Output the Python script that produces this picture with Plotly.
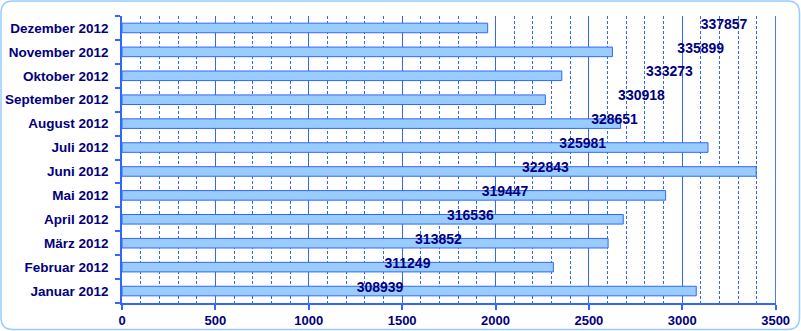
import plotly.graph_objects as go

months = ["Januar 2012", "Februar 2012", "März 2012", "April 2012", "Mai 2012",
          "Juni 2012", "Juli 2012", "August 2012", "September 2012",
          "Oktober 2012", "November 2012", "Dezember 2012"]
monthly = [3075, 2310, 2603, 2684, 2911, 3396, 3138, 2670, 2267, 2355, 2626, 1958]
cumulative = [308939, 311249, 313852, 316536, 319447, 322843, 325981, 328651,
              330918, 333273, 335899, 337857]
x_ticks = [0, 500, 1000, 1500, 2000, 2500, 3000, 3500]

W, H = 801, 331
L, R, T, B = 122, 25, 16, 28
PW, PH = W - L - R, H - T - B

NAVY = "#000080"
BLUE = "#3366ff"
FONT = "Liberation Sans, Arial, sans-serif"

fig = go.Figure()
fig.add_trace(go.Bar(
    y=months, x=monthly, orientation="h", width=0.4,
    marker=dict(color="#99ccff", line=dict(color=BLUE, width=1)),
    hoverinfo="skip", showlegend=False,
))
fig.add_trace(go.Scatter(
    y=months, x=cumulative, xaxis="x2", yaxis="y2", mode="text",
    text=[str(v) for v in cumulative], textposition="middle center",
    textfont=dict(family=FONT, size=14, color=NAVY, weight="bold"),
    hoverinfo="skip", showlegend=False,
))

def fx(px):
    return (px - L) / PW

def fy(py):
    return 1 - (py - T) / PH

x0, x1, y0, y1, r = 1, 799.5, 1, 329.5, 12
pts = [
    ("M", x0 + r, y0), ("L", x1 - r, y0), ("Q", x1, y0, x1, y0 + r),
    ("L", x1, y1 - r), ("Q", x1, y1, x1 - r, y1), ("L", x0 + r, y1),
    ("Q", x0, y1, x0, y1 - r), ("L", x0, y0 + r), ("Q", x0, y0, x0 + r, y0),
]
path = ""
for p in pts:
    cmd = p[0]
    coords = p[1:]
    parts = []
    for i in range(0, len(coords), 2):
        parts.append(f"{fx(coords[i]):.5f},{fy(coords[i+1]):.5f}")
    path += cmd + " ".join(parts) + " "
path += "Z"

shift = 0.12

fig.update_layout(
    width=W, height=H,
    margin=dict(l=L, r=R, t=T, b=B, autoexpand=False),
    paper_bgcolor="white", plot_bgcolor="white",
    xaxis=dict(
        range=[0, 3502], tickvals=x_ticks, ticktext=[str(v) for v in x_ticks],
        showgrid=True, gridcolor=BLUE, gridwidth=1,
        minor=dict(dtick=100, showgrid=True, gridcolor=BLUE, griddash="3px,2px", gridwidth=1),
        showline=True, linecolor=BLUE, linewidth=1.5,
        ticks="outside", ticklen=5, tickcolor=BLUE, tickwidth=1.5,
        tickfont=dict(family=FONT, size=13, color=NAVY, weight="bold"),
        zeroline=False, fixedrange=True, automargin=False,
    ),
    xaxis2=dict(
        overlaying="x", side="top", range=[287251, 342228],
        visible=False, showgrid=False, zeroline=False,
    ),
    yaxis=dict(
        categoryorder="array", categoryarray=months, range=[-0.5, 11.5],
        showline=True, linecolor=BLUE, linewidth=1.5,
        ticks="outside", ticklen=5, tickcolor=BLUE, tickwidth=1.5,
        tickson="boundaries", ticklabelstandoff=9,
        tickfont=dict(family=FONT, size=13.5, color=NAVY, weight="bold"),
        showgrid=False, zeroline=False, automargin=False,
    ),
    yaxis2=dict(
        overlaying="y", categoryorder="array", categoryarray=months,
        range=[-0.5 - shift, 11.5 - shift], visible=False,
        showgrid=False, zeroline=False,
    ),
    shapes=[
        dict(type="line", xref="x", yref="paper", x0=3500, x1=3500, y0=0, y1=1,
             line=dict(color=BLUE, width=1), layer="below"),
        dict(type="path", path=path, xref="paper", yref="paper",
             line=dict(color="#99ccff", width=1.5), layer="above"),
    ],
)

fig.write_html("out.html")
